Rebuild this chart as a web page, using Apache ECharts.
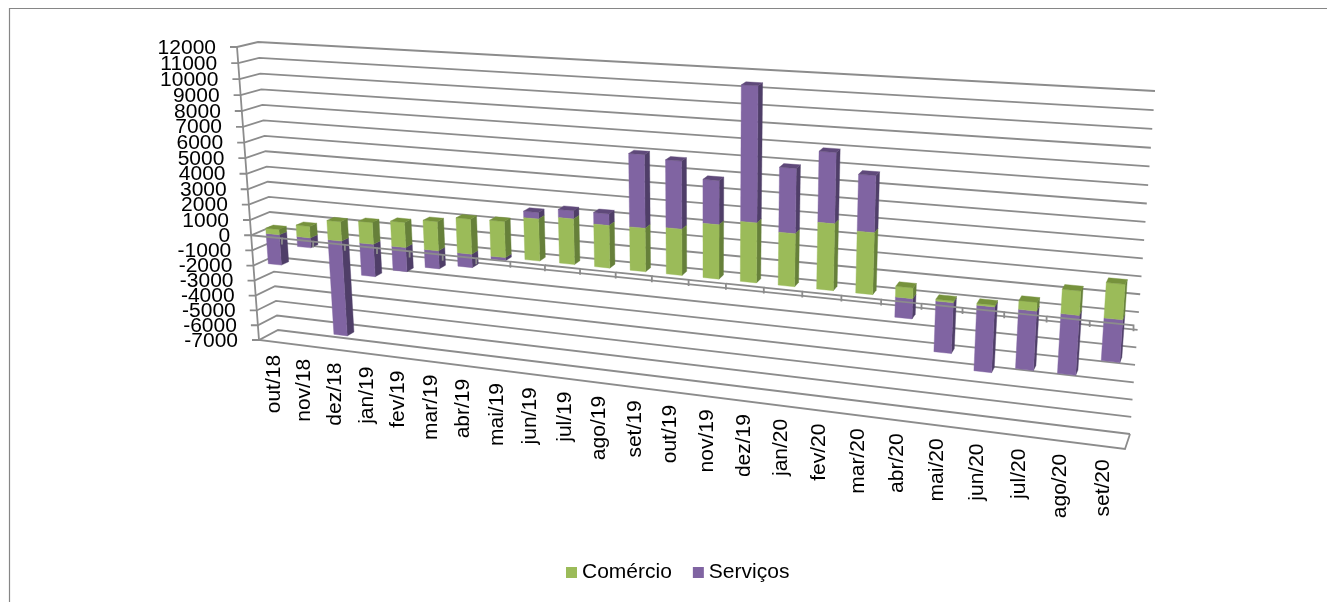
<!DOCTYPE html>
<html>
<head>
<meta charset="utf-8">
<style>html,body{margin:0;padding:0;background:#fff}#c{width:1327px;height:602px}</style>
<script src="https://cdn.jsdelivr.net/npm/echarts@6/dist/echarts.min.js"></script>
</head>
<body>
<div id="c"></div>
<script>
const categories = ['out/18','nov/18','dez/18','jan/19','fev/19','mar/19','abr/19','mai/19','jun/19','jul/19','ago/19','set/19','out/19','nov/19','dez/19','jan/20','fev/20','mar/20','abr/20','mai/20','jun/20','jul/20','ago/20','set/20'];
const comercio = [350,750,1250,1400,1600,1850,2200,2250,2600,2800,2600,2630,2780,3240,3550,3120,3890,3580,620,100,100,500,1370,1970];
const servicos = [-2000,-650,-6250,-2100,-1550,-1150,-850,-200,400,500,700,4380,4020,2590,7850,3760,4060,3240,-1180,-2950,-3800,-3400,-3400,-2400];
const yTicks = [-7000,-6000,-5000,-4000,-3000,-2000,-1000,0,1000,2000,3000,4000,5000,6000,7000,8000,9000,10000,11000,12000];

// Camera: where the corners of the 3D box fall on the page
const backWall  = [[258,42],[1155,91],[1130,434],[278,330]];
const frontWall = [[237,47],[1149,101],[1125,449],[259,340]];
const BAR_BACK = 0.3, BAR_FRONT = 0.68, BAR_WIDTH = 0.43;
const GRID = {left:100, top:100, width:1000, height:400};
const LINE = '#8c8c8c', LW = 1.8, FONT = '20px "Liberation Sans", Arial, sans-serif';

function homography(q){
  const [[x0,y0],[x1,y1],[x2,y2],[x3,y3]] = q;
  const sx=x0-x1+x2-x3, sy=y0-y1+y2-y3, dx1=x1-x2, dx2=x3-x2, dy1=y1-y2, dy2=y3-y2;
  const det=dx1*dy2-dx2*dy1, g=(sx*dy2-dx2*sy)/det, h=(dx1*sy-sx*dy1)/det;
  const a=x1-x0+g*x1, b=x3-x0+h*x3, d=y1-y0+g*y1, e=y3-y0+h*y3;
  return (u,v)=>{const k=g*u+h*v+1; return [(a*u+b*v+x0)/k,(d*u+e*v+y0)/k];};
}
const hBack = homography(backWall), hFront = homography(frontWall);
// turn a point of the flat hidden cartesian into the perspective page position; w: 0 back wall, 1 front
function project(api, x, val, w){
  const p = api.coord([x, val]);
  const u = (p[0]-GRID.left)/GRID.width, v = (p[1]-GRID.top)/GRID.height;
  const b = hBack(u,v), f = hFront(u,v);
  return [b[0]+(f[0]-b[0])*w, b[1]+(f[1]-b[1])*w];
}
const XMIN=-0.5, XMAX=categories.length-0.5, YMIN=yTicks[0], YMAX=yTicks[yTicks.length-1];
const poly=(pts,fill)=>({type:'polygon',shape:{points:pts},style:{fill:fill,stroke:fill,lineWidth:0.4}});
const line=(pts)=>({type:'polyline',shape:{points:pts},style:{fill:null,stroke:LINE,lineWidth:LW}});

function barRenderer(own, other, isBottomSeries, colors){
  return function(params, api){
    const i = api.value(0), val = api.value(1);
    const o = other[i];
    const base = (!isBottomSeries && Math.sign(o)===Math.sign(val)) ? o : 0;
    const end = base+val;
    const lo=Math.min(base,end), hi=Math.max(base,end);
    const xl=i-BAR_WIDTH/2, xr=i+BAR_WIDTH/2;
    const fl=project(api,xl,lo,BAR_FRONT), fr=project(api,xr,lo,BAR_FRONT),
          fL=project(api,xl,hi,BAR_FRONT), fR=project(api,xr,hi,BAR_FRONT),
          br=project(api,xr,lo,BAR_BACK), bR=project(api,xr,hi,BAR_BACK), bL=project(api,xl,hi,BAR_BACK);
    const children=[poly([fr,br,bR,fR],colors.side), poly([fl,fr,fR,fL],colors.front)];
    const covered = isBottomSeries && o>0 && val>0;
    if(hi>0 && !covered) children.push(poly([fL,fR,bR,bL],colors.top));
    return {type:'group',children};
  };
}
const GREEN={front:'#9bbb59',side:'#66803a',top:'#76923c'};
const PURPLE={front:'#8064a2',side:'#4f3e68',top:'#5f497a'};

const option = {
  animation:false,
  backgroundColor:'#fff',
  grid:GRID,
  xAxis:{type:'value',min:XMIN,max:XMAX,show:false},
  yAxis:{type:'value',min:YMIN,max:YMAX,interval:1000,show:false},
  legend:{data:['Comércio','Serviços'],left:561,top:557,itemWidth:11,itemHeight:11,itemGap:21,icon:'rect',
    textStyle:{fontFamily:'"Liberation Sans", Arial, sans-serif',fontSize:21,color:'#000'},selectedMode:false},
  graphic:[{type:'rect',shape:{x:9.5,y:8.5,width:1500,height:800},style:{fill:null,stroke:'#868686',lineWidth:1.2},silent:true}],
  series:[
    {type:'custom',name:'grade',z:1,silent:true,data:yTicks.map(t=>[0,t]),encode:{x:0,y:1},
     renderItem(params,api){
       const t=api.value(1);
       const f=project(api,XMIN,t,1), b=project(api,XMIN,t,0), r=project(api,XMAX,t,0);
       return {type:'group',children:[
         line([[f[0]-7,f[1]],f,b,r]),
         {type:'text',x:f[0]-21,y:f[1]+1,scaleX:1.05,style:{text:String(t),font:FONT,fill:'#000',align:'right',verticalAlign:'middle'}}
       ]};
     }},
    {type:'custom',name:'piso',z:1,silent:true,data:[[0,YMIN]],encode:{x:0,y:1},
     renderItem(params,api){
       return {type:'group',children:[
         line([project(api,XMIN,YMAX,1),project(api,XMIN,YMIN,1),project(api,XMAX,YMIN,1),project(api,XMAX,YMIN,0)])
       ]};
     }},
    {type:'custom',name:'Serviços',z:2,itemStyle:{color:'#8064a2'},data:servicos.map((v,i)=>[i,v]),encode:{x:0,y:1},
     renderItem:barRenderer(servicos,comercio,false,PURPLE)},
    {type:'custom',name:'Comércio',z:3,itemStyle:{color:'#9bbb59'},data:comercio.map((v,i)=>[i,v]),encode:{x:0,y:1},
     renderItem:barRenderer(comercio,servicos,true,GREEN)},
    {type:'custom',name:'eixo',z:4,silent:true,data:categories.map((c,i)=>[i,0]),encode:{x:0,y:1},
     renderItem(params,api){
       const i=api.value(0);
       const a=project(api,i-0.5,0,1), b=project(api,i+0.5,0,1);
       const c=project(api,i,YMIN,1);
       return {type:'group',children:[
         line([a,b,[b[0],b[1]+6]]),
         {type:'text',x:c[0],y:c[1]+13,rotation:Math.PI/2,scaleX:1.05,style:{text:categories[i],font:FONT,fill:'#000',align:'right',verticalAlign:'middle'}}
       ]};
     }}
  ]
};
echarts.init(document.getElementById('c'),null,{renderer:'canvas'}).setOption(option);
</script>
</body>
</html>
